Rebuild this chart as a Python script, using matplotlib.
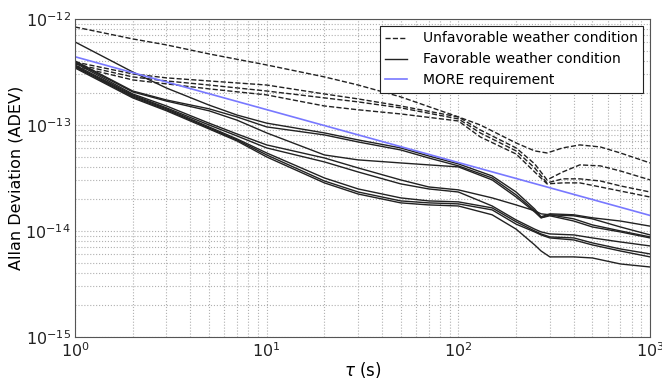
import numpy as np
import matplotlib
matplotlib.use('Agg')
import matplotlib.pyplot as plt

# averaging times (s)
tau_fav = [1, 2, 3, 5, 7, 10, 20, 30, 50, 70, 100, 150, 200, 250, 270, 300, 400, 500, 700, 1000]
tau_unfav = [1, 2, 3, 5, 10, 20, 30, 50, 100, 130, 200, 250, 290, 350, 430, 550, 700, 1000]

# favorable weather runs, ADEV in units of 1e-14
fav_1 = [60.7, 31.6, 22.3, 15.4, 12.4, 10.4, 8.41, 7.22, 6.07, 5.10, 4.29, 3.30, 2.33, 1.61, 1.36, 1.45, 1.42, 1.33, 1.24, 1.11]
fav_2 = [40.2, 20.9, 17.2, 14.2, 11.9, 9.58, 8.05, 6.91, 5.81, 4.88, 4.11, 3.16, 2.19, 1.55, 1.33, 1.42, 1.30, 1.14, 1.00, 0.878]
fav_3 = [39.3, 20.5, 16.8, 13.6, 11.1, 8.41, 5.21, 4.68, 4.38, 4.20, 4.02, 3.03, 2.09, 1.51, 1.33, 1.39, 1.24, 1.09, 0.979, 0.859]
fav_4 = [38.5, 19.6, 15.1, 10.4, 8.22, 6.48, 4.88, 3.93, 3.03, 2.60, 2.44, 2.05, 1.76, 1.55, 1.45, 1.42, 1.39, 1.30, 1.09, 0.917]
fav_5 = [36.8, 19.2, 14.5, 10.0, 7.87, 6.07, 4.48, 3.60, 2.78, 2.49, 2.33, 1.72, 1.27, 1.04, 0.979, 0.937, 0.917, 0.859, 0.787, 0.722]
fav_6 = [36.0, 18.8, 14.2, 9.58, 7.38, 5.44, 3.16, 2.49, 2.05, 1.92, 1.88, 1.65, 1.22, 1.00, 0.937, 0.878, 0.859, 0.771, 0.676, 0.607]
fav_7 = [35.3, 18.4, 13.9, 9.37, 7.22, 5.21, 2.96, 2.33, 1.92, 1.84, 1.80, 1.58, 1.16, 0.979, 0.917, 0.859, 0.822, 0.738, 0.647, 0.569]
fav_8 = [34.5, 18.0, 13.6, 9.17, 7.06, 4.99, 2.84, 2.23, 1.84, 1.76, 1.72, 1.42, 1.04, 0.738, 0.647, 0.569, 0.569, 0.556, 0.488, 0.457]

# unfavorable weather runs, ADEV in units of 1e-14
unfav_1 = [84.0, 64.8, 56.9, 46.8, 36.8, 28.4, 23.8, 18.4, 11.9, 10.0, 6.76, 5.69, 5.44, 6.07, 6.48, 6.20, 5.44, 4.38]
unfav_2 = [39.3, 30.3, 27.8, 26.0, 23.8, 19.6, 17.6, 15.1, 11.9, 8.97, 6.07, 4.29, 3.03, 3.60, 4.20, 4.11, 3.68, 3.03]
unfav_3 = [37.6, 28.4, 26.0, 23.8, 20.9, 18.0, 16.5, 14.5, 11.4, 8.41, 5.69, 3.93, 2.84, 3.10, 3.10, 2.96, 2.66, 2.33]
unfav_4 = [36.0, 26.6, 24.4, 21.9, 19.2, 15.1, 13.9, 12.7, 10.9, 7.71, 5.32, 3.60, 2.78, 2.84, 2.84, 2.60, 2.38, 2.09]

# MORE requirement line
tau_req = [1, 1000]
req = [44.0, 1.4]

fav_runs = [fav_1, fav_2, fav_3, fav_4, fav_5, fav_6, fav_7, fav_8]
unfav_runs = [unfav_1, unfav_2, unfav_3, unfav_4]

plt.rcParams['font.family'] = 'DejaVu Sans'
plt.rcParams['axes.unicode_minus'] = False
fig = plt.figure(figsize=(6.62, 3.79), dpi=100)
ax = fig.add_axes([0.1133, 0.111, 0.8687, 0.839])

scale = 1e-14
for i, run in enumerate(unfav_runs):
    ax.loglog(tau_unfav, np.array(run) * scale, '--', color='#222222', lw=1.0,
              label='Unfavorable weather condition' if i == 0 else None)
for i, run in enumerate(fav_runs):
    ax.loglog(tau_fav, np.array(run) * scale, '-', color='#222222', lw=1.0,
              label='Favorable weather condition' if i == 0 else None)
ax.loglog(tau_req, np.array(req) * scale, '-', color='#7878ff', lw=1.2, label='MORE requirement')

ax.set_xlim(1, 1000)
ax.set_ylim(1e-15, 1e-12)
ax.grid(True, which='both', linestyle=':', color='#b0b0b0', lw=0.8)
ax.tick_params(which='both', direction='in', top=True, right=True, labelsize=11.5,
               colors='#222222', length=0)
ax.tick_params(axis='x', pad=3)
ax.tick_params(axis='y', pad=3)
for s in ax.spines.values():
    s.set_color('#555555')

ax.set_ylabel('Allan Deviation (ADEV)', fontsize=11.5, labelpad=1)
ax.set_xlabel(r'$\tau$ (s)', fontsize=12, labelpad=0)

leg = ax.legend(loc='upper right', fontsize=10, fancybox=False, framealpha=1,
                edgecolor='#222222', borderaxespad=0.5, handlelength=1.6,
                handletextpad=1.1, labelspacing=0.5)
leg.get_frame().set_linewidth(0.8)

fig.savefig('out.png', dpi=100)
